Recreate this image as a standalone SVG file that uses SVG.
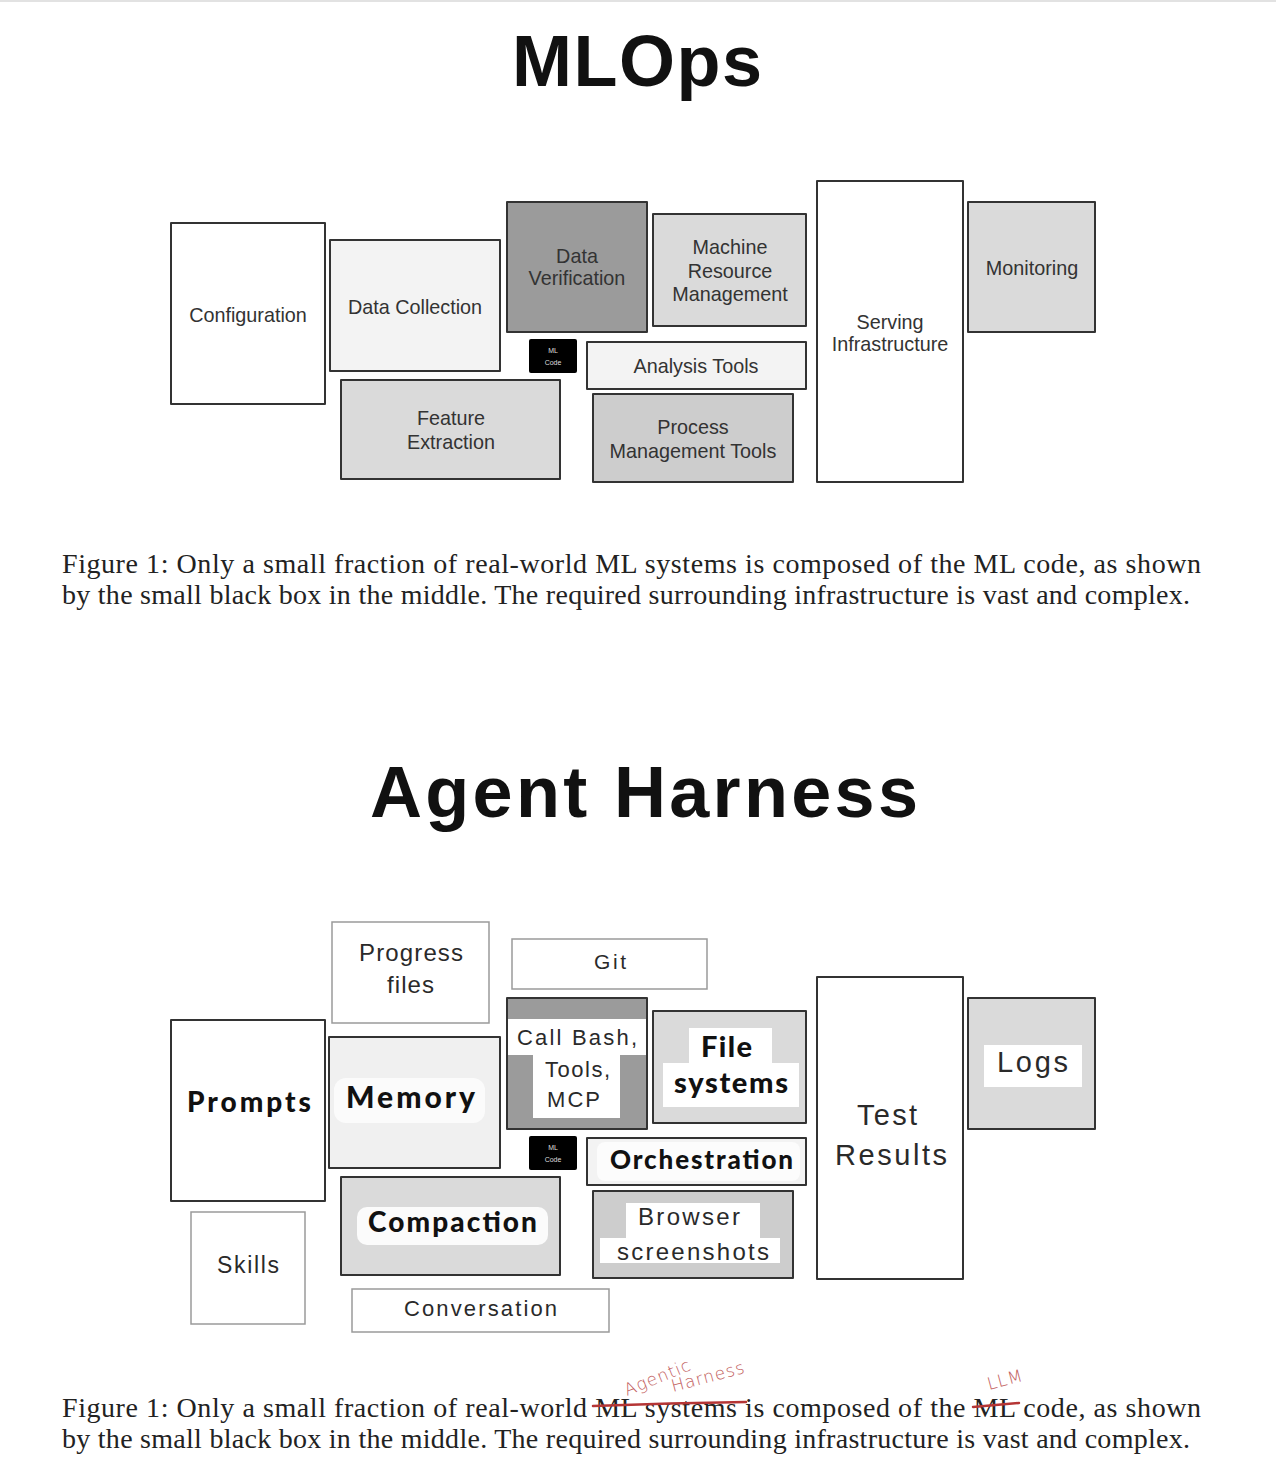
<svg xmlns="http://www.w3.org/2000/svg" width="1276" height="1480" viewBox="0 0 1276 1480">
<style>
.box{stroke:#333;stroke-width:2;stroke-linejoin:round}
.thin{stroke:#9a9a9a;stroke-width:1.5}
.lbl{font-family:"Liberation Sans",Arial,sans-serif;font-size:19.8px;fill:#333;text-anchor:middle}
.ag{font-family:"Liberation Sans",Arial,sans-serif;fill:#2a2a2a}
.bd{font-family:Lato,"Liberation Sans",sans-serif;font-weight:900;fill:#111}
.cap{font-family:"Liberation Serif","Times New Roman",serif;font-size:28px;fill:#222}
.title{font-family:"Liberation Sans",Arial,sans-serif;font-weight:bold;font-size:72px;fill:#111}
.hand{font-family:"DejaVu Sans",sans-serif;font-weight:300;font-size:17px;fill:#c25e5e;letter-spacing:1px}
.ml{font-family:"Liberation Sans",Arial,sans-serif;font-size:7px;fill:#ddd;text-anchor:middle}
.w{fill:#fff}
</style>
<rect width="1276" height="1480" fill="#fff"/>
<line x1="0" y1="1" x2="1276" y2="1" stroke="#e2e2e2" stroke-width="2"/>

<!-- ===== MLOps ===== -->
<text id="title-mlops" class="title" x="512" y="86" textLength="250" lengthAdjust="spacing">MLOps</text>

<g id="configuration"><rect class="box" x="171" y="223" width="154" height="181" fill="#fff"/><text class="lbl" x="248" y="322">Configuration</text></g>
<g id="data-collection"><rect class="box" x="330" y="240" width="170" height="131" fill="#f3f3f3"/><text class="lbl" x="415" y="314">Data Collection</text></g>
<g id="data-verification"><rect class="box" x="507" y="202" width="140" height="130" fill="#9b9b9b"/><text class="lbl" x="577" y="263">Data</text><text class="lbl" x="577" y="285">Verification</text></g>
<g id="machine-resource"><rect class="box" x="653" y="214" width="153" height="112" fill="#dadada"/><text class="lbl" x="730" y="254">Machine</text><text class="lbl" x="730" y="277.5">Resource</text><text class="lbl" x="730" y="301">Management</text></g>
<g id="ml-code-1"><rect x="529" y="339" width="48" height="34" rx="2" fill="#000"/><text class="ml" x="553" y="353">ML</text><text class="ml" x="553" y="365">Code</text></g>
<g id="analysis-tools"><rect class="box" x="587" y="342" width="219" height="47" fill="#f3f3f3"/><text class="lbl" x="696" y="373">Analysis Tools</text></g>
<g id="feature-extraction"><rect class="box" x="341" y="380" width="219" height="99" fill="#dadada"/><text class="lbl" x="451" y="425">Feature</text><text class="lbl" x="451" y="449">Extraction</text></g>
<g id="process-management"><rect class="box" x="593" y="394" width="200" height="88" fill="#cdcdcd"/><text class="lbl" x="693" y="434">Process</text><text class="lbl" x="693" y="458">Management Tools</text></g>
<g id="serving-infrastructure"><rect class="box" x="817" y="181" width="146" height="301" fill="#fff"/><text class="lbl" x="890" y="329">Serving</text><text class="lbl" x="890" y="351">Infrastructure</text></g>
<g id="monitoring"><rect class="box" x="968" y="202" width="127" height="130" fill="#dadada"/><text class="lbl" x="1032" y="275">Monitoring</text></g>

<g id="caption-1">
<text class="cap" x="62" y="573" textLength="1139" lengthAdjust="spacing">Figure 1: Only a small fraction of real-world ML systems is composed of the ML code, as shown</text>
<text class="cap" x="62" y="604" textLength="1128" lengthAdjust="spacing">by the small black box in the middle. The required surrounding infrastructure is vast and complex.</text>
</g>

<!-- ===== Agent Harness ===== -->
<text id="title-harness" class="title" x="370" y="817" textLength="548" lengthAdjust="spacing">Agent Harness</text>

<g id="progress-files"><rect class="thin" x="332" y="922" width="157" height="101" fill="#fff"/><text class="ag" font-size="24" x="359" y="961" textLength="104" lengthAdjust="spacing">Progress</text><text class="ag" font-size="24" x="387" y="993" textLength="47" lengthAdjust="spacing">files</text></g>
<g id="git"><rect class="thin" x="512" y="939" width="195" height="50" fill="#fff"/><text class="ag" font-size="21" x="594" y="969" textLength="32" lengthAdjust="spacing">Git</text></g>
<g id="prompts"><rect class="box" x="171" y="1020" width="154" height="181" fill="#fff"/><text class="bd" font-size="28" x="187" y="1112" textLength="124" lengthAdjust="spacing">Prompts</text></g>
<g id="memory"><rect class="box" x="329" y="1037" width="171" height="131" fill="#f0f0f0"/><rect x="334" y="1078" width="151" height="45" rx="12" fill="#fbfbfb"/><text class="bd" font-size="30" x="346" y="1108" textLength="129" lengthAdjust="spacing">Memory</text></g>
<g id="call-bash">
<rect class="box" x="507" y="998" width="140" height="131" fill="#9b9b9b"/>
<rect class="w" x="508" y="1019" width="138" height="36"/>
<rect class="w" x="533" y="1054" width="87" height="64"/>
<text class="ag" font-size="22" x="517" y="1045" textLength="120" lengthAdjust="spacing">Call Bash,</text>
<text class="ag" font-size="22" x="545" y="1077" textLength="65" lengthAdjust="spacing">Tools,</text>
<text class="ag" font-size="22" x="547" y="1107" textLength="53" lengthAdjust="spacing">MCP</text>
</g>
<g id="file-systems"><rect class="box" x="653" y="1011" width="153" height="112" fill="#dadada"/><rect class="w" x="689" y="1028" width="83" height="36"/><rect class="w" x="663" y="1063" width="136" height="44"/><text class="bd" font-size="29" x="701" y="1057" textLength="51" lengthAdjust="spacing">File</text><text class="bd" font-size="29" x="674" y="1093" textLength="114" lengthAdjust="spacing">systems</text></g>
<g id="ml-code-2"><rect x="529" y="1136" width="48" height="34" rx="2" fill="#000"/><text class="ml" x="553" y="1150">ML</text><text class="ml" x="553" y="1162">Code</text></g>
<g id="orchestration"><rect class="box" x="587" y="1138" width="219" height="47" fill="#f3f3f3"/><rect x="597" y="1142" width="203" height="39" rx="8" fill="#fcfcfc"/><text class="bd" font-size="26" x="610" y="1169" textLength="183" lengthAdjust="spacing">Orchestration</text></g>
<g id="compaction"><rect class="box" x="341" y="1177" width="219" height="98" fill="#dadada"/><rect x="357" y="1207" width="191" height="38" rx="10" fill="#fbfbfb"/><text class="bd" font-size="28" x="368" y="1232" textLength="169" lengthAdjust="spacing">Compaction</text></g>
<g id="browser-screenshots"><rect class="box" x="593" y="1191" width="200" height="87" fill="#cdcdcd"/><rect class="w" x="626" y="1203" width="134" height="36"/><rect class="w" x="600" y="1238" width="180" height="25"/><text class="ag" font-size="24" x="638" y="1225" textLength="102" lengthAdjust="spacing">Browser</text><text class="ag" font-size="24" x="617" y="1260" textLength="152" lengthAdjust="spacing">screenshots</text></g>
<g id="test-results"><rect class="box" x="817" y="977" width="146" height="302" fill="#fff"/><text class="ag" font-size="29" x="857" y="1125" textLength="60" lengthAdjust="spacing">Test</text><text class="ag" font-size="29" x="835" y="1165" textLength="112" lengthAdjust="spacing">Results</text></g>
<g id="logs"><rect class="box" x="968" y="998" width="127" height="131" fill="#dadada"/><rect class="w" x="984" y="1045" width="98" height="42"/><text class="ag" font-size="29" x="997" y="1072" textLength="71" lengthAdjust="spacing">Logs</text></g>
<g id="skills"><rect class="thin" x="191" y="1212" width="114" height="112" fill="#fff"/><text class="ag" font-size="23" x="217" y="1273" textLength="62" lengthAdjust="spacing">Skills</text></g>
<g id="conversation"><rect class="thin" x="352" y="1289" width="257" height="43" fill="#fff"/><text class="ag" font-size="22" x="404" y="1316" textLength="153" lengthAdjust="spacing">Conversation</text></g>

<g id="connectors"/>

<g id="caption-2">
<text class="cap" x="62" y="1417" textLength="1139" lengthAdjust="spacing">Figure 1: Only a small fraction of real-world ML systems is composed of the ML code, as shown</text>
<text class="cap" x="62" y="1448" textLength="1128" lengthAdjust="spacing">by the small black box in the middle. The required surrounding infrastructure is vast and complex.</text>
<path d="M593 1406 Q670 1403 746 1402" fill="none" stroke="#b53535" stroke-width="2.5" stroke-linecap="round"/>
<path d="M973 1407 L1019 1403" fill="none" stroke="#b53535" stroke-width="2.5" stroke-linecap="round"/>
<text class="hand" transform="translate(627 1396) rotate(-22)">Agentic</text>
<text class="hand" transform="translate(673 1392) rotate(-15)">Harness</text>
<text class="hand" font-size="21" transform="translate(989 1390) rotate(-15)">LLM</text>
</g>
</svg>
